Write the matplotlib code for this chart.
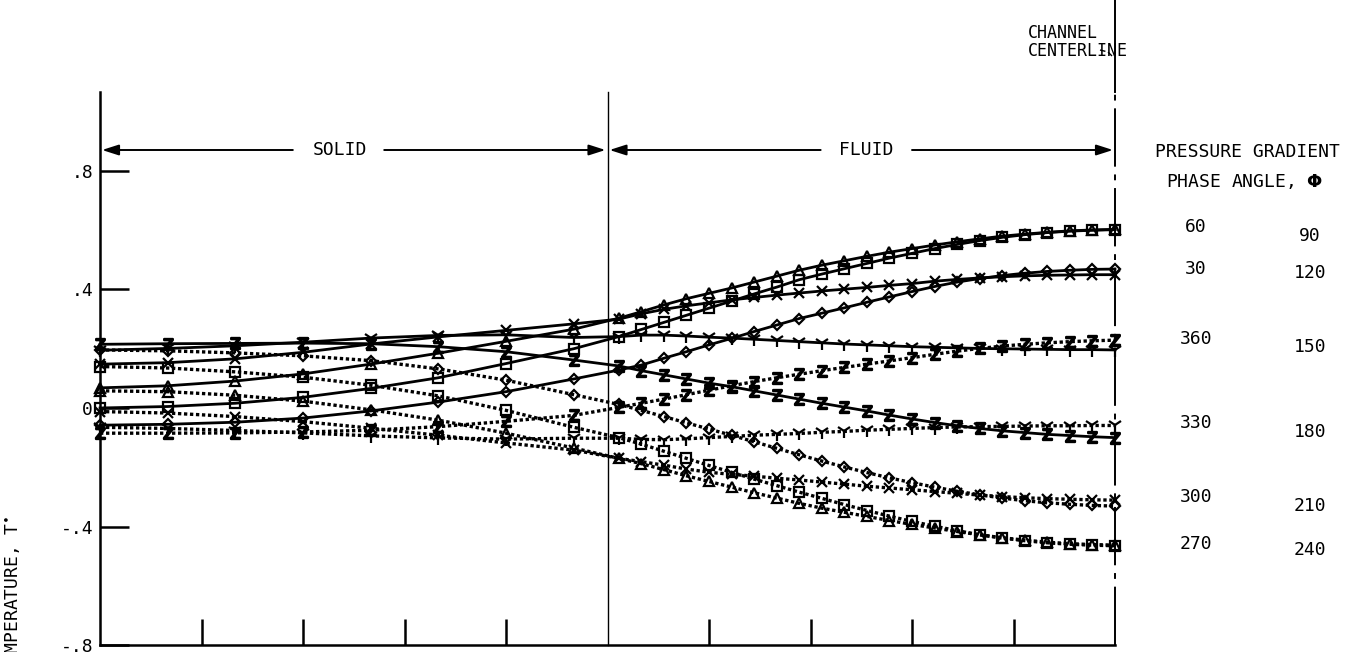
import numpy as np
import matplotlib
matplotlib.use("Agg")
import matplotlib.pyplot as plt
from matplotlib.lines import Line2D

# ---------------- data ----------------
# node positions (tick units, 0 = wall, 5 = solid/fluid interface, 10 = channel centerline)
x_solid = [0.0, 0.667, 1.333, 2.0, 2.667, 3.333, 4.0, 4.667]
x_fluid = [5.111, 5.333, 5.556, 5.778, 6.0, 6.222, 6.444, 6.667, 6.889, 7.111,
           7.333, 7.556, 7.778, 8.0, 8.222, 8.444, 8.667, 8.889, 9.111, 9.333,
           9.556, 9.778, 10.0]

phases = [30, 60, 90, 120, 150, 180, 210, 240, 270, 300, 330, 360]

t_030 = [-.058, -.055, -.048, -.034, -.010, .020, .055, .098,
         .128, .145, .168, .190, .213, .235, .258, .280, .302, .320, .338, .357,
         .375, .393, .410, .425, .437, .447, .455, .461, .465, .468, .469]
t_060 = [.000, .005, .016, .036, .066, .102, .150, .200,
         .241, .265, .289, .313, .337, .361, .385, .408, .433, .452, .470, .488,
         .506, .522, .538, .552, .565, .576, .585, .592, .597, .600, .602]
t_090 = [.068, .075, .091, .115, .148, .185, .225, .266,
         .303, .325, .348, .369, .387, .405, .425, .445, .465, .482, .497, .512,
         .526, .538, .550, .561, .571, .580, .587, .593, .598, .601, .603]
t_120 = [.148, .153, .166, .188, .216, .240, .262, .284,
         .300, .318, .333, .345, .355, .365, .373, .381, .388, .395, .401, .407,
         .414, .420, .428, .434, .439, .443, .446, .448, .449, .450, .450]
t_150 = [.195, .201, .210, .222, .236, .245, .247, .238,
         .241, .246, .246, .243, .239, .236, .232, .228, .224, .220, .216, .213,
         .210, .207, .205, .203, .201, .200, .199, .198, .197, .197, .196]
t_180 = [.215, .217, .218, .219, .217, .207, .190, .162,
         .142, .126, .112, .098, .084, .072, .058, .044, .030, .016, .003, -.010,
         -.024, -.037, -.049, -.060, -.069, -.077, -.083, -.089, -.093, -.097, -.100]
t_210 = [.196, .193, .186, .176, .160, .132, .094, .045,
         .012, -.008, -.029, -.050, -.071, -.092, -.114, -.136, -.158, -.179, -.199, -.218,
         -.236, -.252, -.267, -.281, -.293, -.304, -.313, -.320, -.325, -.329, -.331]
t_240 = [.140, .135, .122, .104, .077, .041, -.008, -.065,
         -.100, -.122, -.146, -.170, -.194, -.217, -.240, -.262, -.284, -.305, -.326, -.346,
         -.365, -.383, -.399, -.414, -.428, -.439, -.448, -.455, -.460, -.463, -.465]
t_270 = [.058, .055, .043, .023, -.006, -.041, -.085, -.135,
         -.170, -.188, -.208, -.229, -.248, -.267, -.286, -.304, -.322, -.338, -.352, -.366,
         -.380, -.393, -.405, -.417, -.428, -.438, -.446, -.453, -.458, -.461, -.463]
t_300 = [-.012, -.017, -.029, -.046, -.068, -.092, -.118, -.142,
         -.170, -.181, -.193, -.206, -.217, -.224, -.230, -.237, -.243, -.250, -.257, -.264,
         -.270, -.276, -.282, -.288, -.294, -.299, -.303, -.306, -.308, -.310, -.311]
t_330 = [-.065, -.069, -.076, -.084, -.094, -.101, -.105, -.102,
         -.102, -.106, -.107, -.104, -.100, -.096, -.092, -.089, -.086, -.082, -.079, -.075,
         -.072, -.069, -.066, -.064, -.063, -.062, -.061, -.060, -.060, -.059, -.059]
t_360 = [-.085, -.085, -.084, -.081, -.075, -.063, -.045, -.025,
         .002, .016, .030, .045, .060, .075, .089, .102, .114, .126, .137, .148,
         .159, .170, .181, .192, .201, .209, .215, .220, .224, .227, .229]

series = [t_030, t_060, t_090, t_120, t_150, t_180,
          t_210, t_240, t_270, t_300, t_330, t_360]

y_ticks = [0.8, 0.4, 0.0, -0.4, -0.8]
y_tick_labels = [".8", ".4", "0", "-.4", "-.8"]

left_labels = ["60", "30", "360", "330", "300", "270"]
right_labels = ["90", "120", "150", "180", "210", "240"]

# ---------------- styling ----------------
W, H = 1354, 652
FONT = "DejaVu Sans Mono"
plt.rcParams["font.family"] = [FONT, "DejaVu Sans"]

fig = plt.figure(figsize=(W / 100, H / 100), dpi=100)
fig.patch.set_facecolor("white")

ax_left, ax_right = 100, 1115
ax_top, ax_bot = 92, 645
ax = fig.add_axes([ax_left / W, 1 - ax_bot / H, (ax_right - ax_left) / W, (ax_bot - ax_top) / H])


def py2v(py):
    return (408.0 - py) / 296.25


ax.set_xlim(0, 10)
ax.set_ylim(-0.8, py2v(ax_top))
ax.patch.set_alpha(0)

for s in ["top", "right"]:
    ax.spines[s].set_visible(False)
for s in ["left", "bottom"]:
    ax.spines[s].set_linewidth(1.8)

ax.set_yticks(y_ticks)
ax.set_yticklabels(y_tick_labels, fontsize=13)
ax.set_xticks([1, 2, 3, 4, 6, 7, 8, 9])
ax.set_xticklabels([])
ax.tick_params(axis="y", direction="in", length=21, width=1.8, pad=5)
ax.tick_params(axis="x", direction="in", length=19, width=1.8)

markers = {
    "D": dict(marker="D", ms=4.8),
    "s": dict(marker="s", ms=7),
    "^": dict(marker="^", ms=7.5),
    "x": dict(marker="x", ms=7.5),
    "1": dict(marker="1", ms=10.5),
    "Z": dict(marker=r"$\mathsf{Z}$", ms=8),
}
marker_of = ["D", "s", "^", "x", "1", "Z"] * 2

x_all = x_solid + x_fluid
for i, (ph, vals) in enumerate(zip(phases, series)):
    solid = ph <= 180
    mk = markers[marker_of[i]]
    if solid:
        ls = dict(linestyle="-", lw=2.0)
    else:
        ls = dict(linestyle=(0, (1.0, 0.8)), lw=2.4)
    ax.plot(x_all, vals, color="black", mfc="none", mec="black", mew=1.6,
            clip_on=False, zorder=3, **ls, **mk)

# interface line
ax.plot([5, 5], [-0.8, py2v(ax_top)], color="black", lw=1.0, zorder=2, clip_on=False)
# centerline: solid above the brackets, dash-dot below
ax.plot([10, 10], [py2v(ax_top), py2v(0)], color="black", lw=1.4, zorder=2, clip_on=False)
ax.plot([10, 10], [-0.8, py2v(ax_top)], color="black", lw=1.4, zorder=2, clip_on=False,
        linestyle=(0, (30, 4, 3, 4)))

# region brackets
yb = py2v(150)
arrow_kw = dict(arrowstyle="-|>,head_length=1.0,head_width=0.32", color="black", lw=1.4,
                shrinkA=0, shrinkB=0)
ax.annotate("", xy=(0.02, yb), xytext=(1.9, yb), arrowprops=arrow_kw, annotation_clip=False)
ax.annotate("", xy=(4.98, yb), xytext=(2.8, yb), arrowprops=arrow_kw, annotation_clip=False)
ax.text(2.36, yb, "SOLID", ha="center", va="center", fontsize=13)
ax.annotate("", xy=(5.02, yb), xytext=(7.1, yb), arrowprops=arrow_kw, annotation_clip=False)
ax.annotate("", xy=(9.98, yb), xytext=(8.0, yb), arrowprops=arrow_kw, annotation_clip=False)
ax.text(7.55, yb, "FLUID", ha="center", va="center", fontsize=13)


def ftext(px, py, s, **kw):
    fig.text(px / W, 1 - py / H, s, **kw)


ftext(1028, 33, "CHANNEL", ha="left", va="center", fontsize=12)
ftext(1028, 51, "CENTERLINE", ha="left", va="center", fontsize=12)
fig.add_artist(Line2D([1100 / W, 1108 / W, 1113 / W], [1 - 50 / H, 1 - 52 / H, 1 - 57 / H],
                      color="black", lw=1.0, linestyle=(0, (4, 2))))

ftext(1247, 152, "PRESSURE GRADIENT", ha="center", va="center", fontsize=13)
ftext(1245, 181, r"PHASE ANGLE, $\mathbf{\Phi}$", ha="center", va="center", fontsize=13)

left_y = [227, 269, 339, 423, 497, 544]
right_y = [236, 273, 347, 432, 506, 550]
for lab, py in zip(left_labels, left_y):
    ftext(1196, py, lab, ha="center", va="center", fontsize=13)
for lab, py in zip(right_labels, right_y):
    ftext(1310, py, lab, ha="center", va="center", fontsize=13)

# y axis label (partly cut by the figure edge, as in the reference)
ftext(13, 515, r"TEMPERATURE, T$^{\bullet}$", ha="center", va="top", rotation=90, fontsize=13)

fig.savefig("out.png", dpi=100, facecolor="white")
